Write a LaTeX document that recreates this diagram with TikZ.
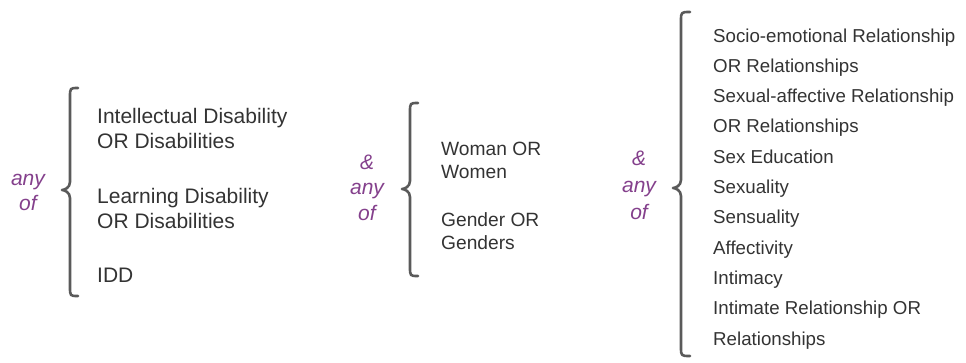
\documentclass[tikz,border=0pt]{standalone}
\usepackage{fontspec}
\setmainfont{Liberation Sans}
\definecolor{txt}{HTML}{333333}
\definecolor{pur}{HTML}{84408C}
\definecolor{brc}{HTML}{5A5A5A}
\tikzset{
  itemL/.style={anchor=base west, inner sep=0pt, text=txt, font=\fontsize{21}{25}\selectfont},
  itemM/.style={anchor=base west, inner sep=0pt, text=txt, font=\fontsize{19.2}{23}\selectfont},
  itemR/.style={anchor=base west, inner sep=0pt, text=txt, font=\fontsize{18.7}{23}\selectfont},
  lbl/.style={anchor=base, inner sep=0pt, text=pur, font=\fontsize{21}{25}\selectfont\itshape},
  bracepath/.style={draw=brc, line width=2.6pt, line cap=round, line join=round}
}
\newcommand{\mybrace}[6]{% xR xM xL top tip bottom
  \draw[bracepath] (#1,#4) .. controls (#2,#4) and (#2,#4) .. (#2,#4+9)
    -- (#2,#5-8) .. controls (#2,#5-2) and (#3+2,#5) .. (#3,#5)
    .. controls (#3+2,#5) and (#2,#5+2) .. (#2,#5+8)
    -- (#2,#6-9) .. controls (#2,#6) and (#2,#6) .. (#1,#6);
}
\begin{document}
\begin{tikzpicture}[x=1pt,y=-1pt]
\useasboundingbox (0,0) rectangle (966,362);
% left group
\node[lbl] (l1) at (28,185) {any};
\node[lbl] (l2) at (28,210) {of};
\mybrace{78}{70}{62}{88}{190}{296}
\node[itemL] (a1) at (97,123) {Intellectual Disability};
\node[itemL] (a2) at (97,148) {OR Disabilities};
\node[itemL] (a3) at (97,203) {Learning Disability};
\node[itemL] (a4) at (97,228) {OR Disabilities};
\node[itemL] (a5) at (97,282) {IDD};
% middle group
\node[lbl] (m1) at (367,169) {\&};
\node[lbl] (m2) at (367,194) {any};
\node[lbl] (m3) at (367,220) {of};
\mybrace{418}{410}{402}{103}{189}{276}
\node[itemM] (b1) at (441,155) {Woman OR};
\node[itemM] (b2) at (441,178) {Women};
\node[itemM] (b3) at (441,226) {Gender OR};
\node[itemM] (b4) at (441,249) {Genders};
% right group
\node[lbl] (r1) at (639,165) {\&};
\node[lbl] (r2) at (639,192) {any};
\node[lbl] (r3) at (639,219) {of};
\mybrace{690}{681}{673}{12}{188}{356}
\node[itemR] (c1)  at (713,42.0)  {Socio-emotional Relationship};
\node[itemR] (c2)  at (713,72.3)  {OR Relationships};
\node[itemR] (c3)  at (713,102.6) {Sexual-affective Relationship};
\node[itemR] (c4)  at (713,132.9) {OR Relationships};
\node[itemR] (c5)  at (713,163.2) {Sex Education};
\node[itemR] (c6)  at (713,193.5) {Sexuality};
\node[itemR] (c7)  at (713,223.8) {Sensuality};
\node[itemR] (c8)  at (713,254.1) {Affectivity};
\node[itemR] (c9)  at (713,284.4) {Intimacy};
\node[itemR] (c10) at (713,314.7) {Intimate Relationship OR};
\node[itemR] (c11) at (713,345.0) {Relationships};
\end{tikzpicture}
\end{document}
